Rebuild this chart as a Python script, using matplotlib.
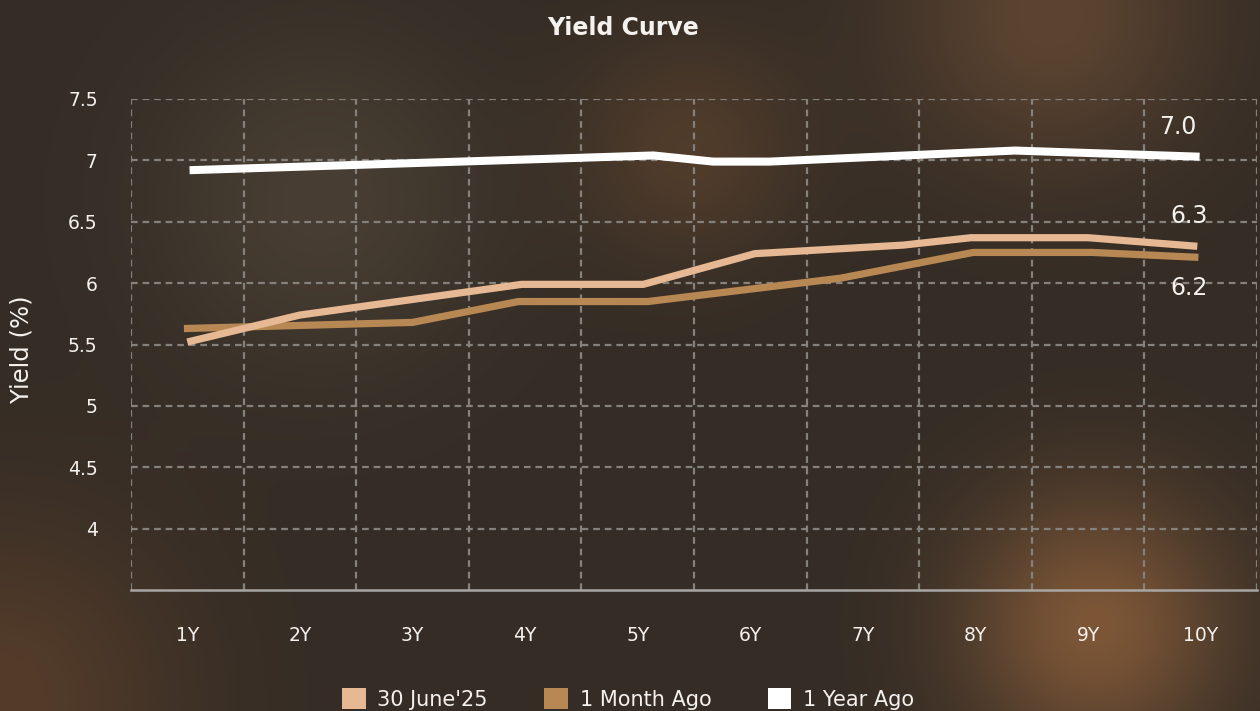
import matplotlib
matplotlib.use("Agg")
import matplotlib.pyplot as plt
import numpy as np
from matplotlib.patches import Patch

plt.rcParams['font.family'] = ['DejaVu Sans']

# Tenor axis
tenors = ['1Y', '2Y', '3Y', '4Y', '5Y', '6Y', '7Y', '8Y', '9Y', '10Y']
tenor_pos = [1, 2, 3, 4, 5, 6, 7, 8, 9, 10]

# Yield curves (maturity in years, yield in %)
june_x = [1.0, 2.0, 3.97, 5.05, 6.04, 7.36, 7.96, 9.0, 9.97]
june_y = [5.52, 5.74, 5.99, 5.99, 6.24, 6.31, 6.37, 6.37, 6.30]

month_x = [0.97, 3.0, 3.94, 5.09, 6.8, 7.98, 9.04, 9.98]
month_y = [5.63, 5.68, 5.85, 5.85, 6.04, 6.25, 6.25, 6.21]

year_x = [1.02, 5.14, 5.67, 6.17, 8.35, 9.99]
year_y = [6.92, 7.04, 6.99, 6.99, 7.08, 7.03]

y_ticks = [4, 4.5, 5, 5.5, 6, 6.5, 7, 7.5]

c_june = '#e6b893'
c_month = '#b78853'
c_year = '#ffffff'
txt = '#f4f1ee'
grid_c = '#85827e'

W, H = 1260, 711
fig = plt.figure(figsize=(W / 100, H / 100), dpi=100)

# dark brown backdrop with soft glows
yy, xx = np.mgrid[0:H, 0:W]
bg = np.zeros((H, W, 3))
bg[:] = np.array([52, 44, 37]) / 255.0
glows = [
    (320, 200, 120, (20, 18, 14)),
    (690, 150, 80, (28, 16, 6)),
    (1050, 15, 110, (40, 24, 12)),
    (1095, 625, 95, (72, 42, 18)),
    (0, 700, 130, (32, 16, 5)),
]
for gx, gy, s, amp in glows:
    g = np.exp(-((xx - gx) ** 2 + (yy - gy) ** 2) / (2 * s ** 2))
    bg += g[..., None] * np.array(amp) / 255.0
bg = np.clip(bg, 0, 1)
fig.figimage(bg[::-1], xo=0, yo=0, zorder=-10, origin='lower')

ax = fig.add_axes([131 / W, 1 - 590 / H, (1257 - 131) / W, (590 - 99) / H])
ax.set_facecolor('none')

ax.plot(month_x, month_y, color=c_month, lw=5.2, solid_capstyle='butt', solid_joinstyle='round', zorder=3)
ax.plot(june_x, june_y, color=c_june, lw=5.2, solid_capstyle='butt', solid_joinstyle='round', zorder=4)
ax.plot(year_x, year_y, color=c_year, lw=5.8, solid_capstyle='butt', solid_joinstyle='round', zorder=5)

# end-of-curve values
ax.text(9.8, 7.27, f"{year_y[-1]:.1f}", color=txt, fontsize=17, ha='center', va='center')
ax.text(9.9, 6.55, f"{june_y[-1]:.1f}", color=txt, fontsize=17, ha='center', va='center')
ax.text(9.9, 5.96, f"{month_y[-1]:.1f}", color=txt, fontsize=17, ha='center', va='center')

ax.set_xlim(0.5, 10.5)
ax.set_ylim(3.5, 7.5)
ax.set_xticks(tenor_pos)
ax.set_xticklabels(tenors)
ax.set_xticks(np.arange(0.5, 11, 1), minor=True)
ax.set_yticks(y_ticks)
ax.set_yticklabels([f"{v:g}" for v in y_ticks])
ax.tick_params(which='both', length=0)
ax.tick_params(axis='x', colors=txt, labelsize=13.5, pad=26)
ax.tick_params(axis='y', colors=txt, labelsize=13.5, pad=24)

ax.grid(which='major', axis='y', color=grid_c, lw=1.6, linestyle=(0, (3, 2.2)))
ax.grid(which='minor', axis='x', color=grid_c, lw=1.6, linestyle=(0, (3, 2.2)))
ax.grid(which='major', axis='x', visible=False)

for side in ['left', 'right', 'top']:
    ax.spines[side].set_visible(False)
ax.spines['bottom'].set_color('#a8a6a4')
ax.spines['bottom'].set_linewidth(1.8)

fig.text(22 / W, 1 - 349 / H, 'Yield (%)', rotation=90, color=txt, fontsize=17.5,
         ha='center', va='center')
fig.text(623 / W, 1 - 28 / H, 'Yield Curve', color=txt, fontsize=17, fontweight='bold',
         ha='center', va='center')

handles = [Patch(facecolor=c_june, label="30 June'25"),
           Patch(facecolor=c_month, label='1 Month Ago'),
           Patch(facecolor=c_year, label='1 Year Ago')]
fig.legend(handles=handles, loc='center', bbox_to_anchor=(628 / W, 1 - 699 / H), ncol=3,
           frameon=False, fontsize=15, labelcolor=txt, handlelength=1.15, handleheight=1.15,
           handletextpad=0.55, columnspacing=2.7)

fig.savefig('out.png', dpi=100)
